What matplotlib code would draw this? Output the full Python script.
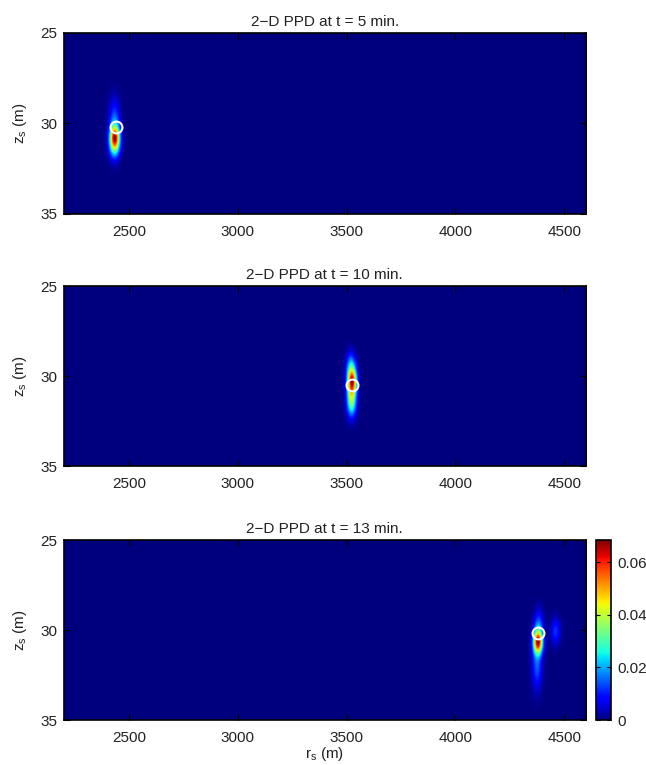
import numpy as np
import matplotlib
matplotlib.use('Agg')
import matplotlib.pyplot as plt

plt.rcParams['font.family'] = ['Liberation Sans', 'DejaVu Sans']
plt.rcParams['font.size'] = 11

# search grid for source range / depth
r_lim = (2200, 4600)
z_lim = (25, 35)

titles = ['2\u2212D PPD at t = 5 min.',
          '2\u2212D PPD at t = 10 min.',
          '2\u2212D PPD at t = 13 min.']

# gaussian lobes making up each PPD: centre range, centre depth, widths, weight
lobe_r = [[2432, 2430, 2430],
          [3522, 3520, 3517],
          [4377, 4372, 4380, 4458]]
lobe_z = [[30.75, 30.0, 31.3],
          [30.3, 31.4, 29.4],
          [30.7, 32.0, 29.8, 30.1]]
lobe_sr = [[16, 17, 17],
           [15, 15, 15],
           [15, 16, 15, 15]]
lobe_sz = [[0.45, 0.9, 0.5],
           [0.5, 0.6, 0.5],
           [0.45, 0.9, 0.6, 0.5]]
lobe_w = [[1.0, 0.35, 0.45],
          [1.0, 0.6, 0.3],
          [1.0, 0.25, 0.25, 0.2]]

# estimated source position (white circle)
est_r = [2441, 3525, 4380]
est_z = [30.2, 30.5, 30.17]

ppd_max = 0.0684

r = np.linspace(r_lim[0], r_lim[1], 601)
z = np.linspace(z_lim[0], z_lim[1], 201)
R, Z = np.meshgrid(r, z)

fig = plt.figure(figsize=(6.46, 7.65), dpi=100)
boxes = [[0.0983, 0.7203, 0.8088, 0.2366],
         [0.0983, 0.3908, 0.8088, 0.2353],
         [0.0983, 0.0588, 0.8088, 0.2353]]

for k in range(3):
    ax = fig.add_axes(boxes[k])
    P = np.zeros_like(R)
    for rc, zc, sr, sz, w in zip(lobe_r[k], lobe_z[k], lobe_sr[k], lobe_sz[k], lobe_w[k]):
        P += w * np.exp(-0.5 * ((R - rc) / sr) ** 2 - 0.5 * ((Z - zc) / sz) ** 2)
    P = P / P.max() * ppd_max
    img = ax.imshow(P, cmap='jet', aspect='auto', origin='upper',
                    extent=[r_lim[0], r_lim[1], z_lim[1], z_lim[0]],
                    interpolation='bilinear', vmin=0, vmax=ppd_max)
    ax.plot(est_r[k], est_z[k], 'o', mfc='none', mec='white', ms=8.5, mew=1.5)
    ax.set_xlim(r_lim)
    ax.set_ylim(z_lim[1], z_lim[0])
    ax.set_xticks([2500, 3000, 3500, 4000, 4500])
    ax.set_yticks([25, 30, 35])
    ax.tick_params(direction='in', top=True, right=True, length=4, width=0.8,
                   colors='black', labelcolor='#222222')
    ax.tick_params(axis='x', pad=8)
    ax.tick_params(axis='y', pad=4.5)
    for s in ax.spines.values():
        s.set_linewidth(1.2)
    ax.set_title(titles[k], fontsize=11, pad=5, color='#222222')
    ax.set_ylabel('$\\mathregular{z_s}$ (m)', color='#222222', labelpad=8)
    if k == 2:
        ax.set_xlabel('$\\mathregular{r_s}$ (m)', color='#222222', labelpad=0)

cax = fig.add_axes([0.9226, 0.0588, 0.0232, 0.2353])
cb = fig.colorbar(img, cax=cax, ticks=[0, 0.02, 0.04, 0.06])
cb.ax.set_yticklabels(['0', '0.02', '0.04', '0.06'])
cb.ax.tick_params(direction='in', length=3, left=True, right=True, pad=4.5,
                  labelcolor='#222222')
cb.outline.set_linewidth(1.2)

fig.savefig('out.png', dpi=100)
